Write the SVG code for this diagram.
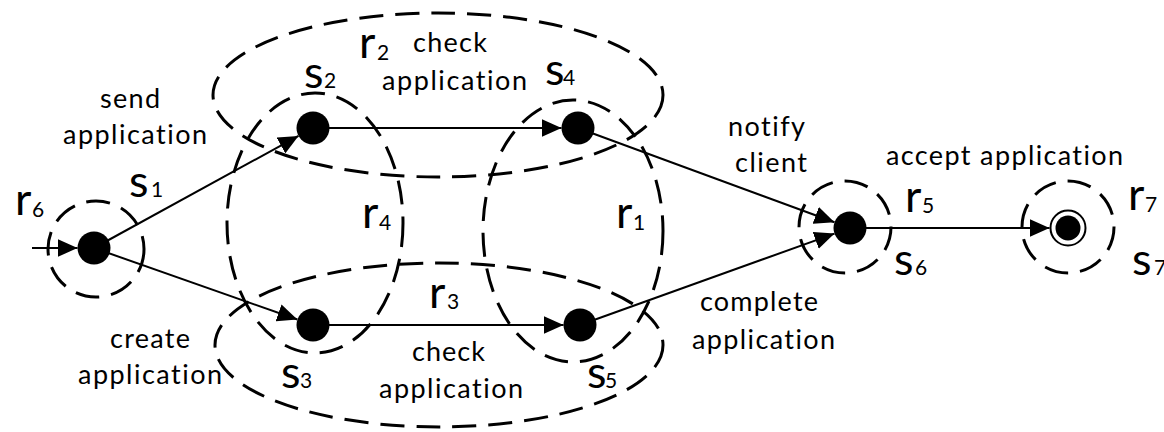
<svg xmlns="http://www.w3.org/2000/svg" width="1164" height="432" viewBox="0 0 1164 432">
<style>
.bg{fill:#fff}
.reg{fill:none;stroke:#000;stroke-width:3;stroke-dasharray:24 12}
.edge{fill:none;stroke:#000;stroke-width:2;marker-end:url(#arr)}
.node{fill:#000}
.ring{fill:none;stroke:#000;stroke-width:2}
text{font-family:Lato,"Liberation Sans",sans-serif;fill:#000;font-variant-ligatures:none}
.lbl{font-size:27px}
.big{font-size:45px}
.sub{font-size:21px}
</style>
<defs>
<marker id="arr" markerUnits="userSpaceOnUse" markerWidth="20" markerHeight="18" refX="20" refY="9" orient="auto">
<path d="M0,0 L20,9 L0,18 z" fill="#000"/>
</marker>
</defs>
<rect class="bg" x="0" y="0" width="1164" height="432"/>
<g id="regions">
<g id="r6"><circle class="reg" cx="96" cy="249" r="48"/><text class="big" x="15" y="215">r<tspan class="sub" x="32" y="217">6</tspan></text></g>
<g id="r2"><ellipse class="reg" cx="438" cy="95" rx="225" ry="82"/><text class="big" x="359" y="58">r<tspan class="sub" x="377" y="60">2</tspan></text></g>
<g id="r3"><ellipse class="reg" cx="439" cy="345" rx="224" ry="82"/><text class="big" x="429" y="308">r<tspan class="sub" x="447" y="309">3</tspan></text></g>
<g id="r4"><ellipse class="reg" cx="315" cy="223" rx="88" ry="130"/><text class="big" x="362" y="228">r<tspan class="sub" x="379" y="230">4</tspan></text></g>
<g id="r1"><ellipse class="reg" cx="573" cy="231" rx="90" ry="131"/><text class="big" x="616" y="228">r<tspan class="sub" x="633" y="230">1</tspan></text></g>
<g id="r5"><circle class="reg" cx="845" cy="227" r="46"/><text class="big" x="905" y="212">r<tspan class="sub" x="922" y="213">5</tspan></text></g>
<g id="r7"><circle class="reg" cx="1068" cy="227" r="46"/><text class="big" x="1128" y="210">r<tspan class="sub" x="1145" y="212">7</tspan></text></g>
</g>
<g id="connectors">
<line class="edge" x1="32" y1="248" x2="77.5" y2="248"/>
<line class="edge" x1="94" y1="248" x2="298.5" y2="135.9"/>
<line class="edge" x1="94" y1="248" x2="297.4" y2="319.5"/>
<line class="edge" x1="313" y1="128" x2="561.5" y2="128"/>
<line class="edge" x1="313" y1="325" x2="563.5" y2="325"/>
<line class="edge" x1="578" y1="128" x2="834.5" y2="222.3"/>
<line class="edge" x1="580" y1="325" x2="834.5" y2="233.6"/>
<line class="edge" x1="850" y1="228" x2="1049.5" y2="228"/>
<text class="lbl" x="100" y="108" textLength="60" lengthAdjust="spacing">send</text>
<text class="lbl" x="63" y="144" textLength="144" lengthAdjust="spacing">application</text>
<text class="lbl" x="413" y="52" textLength="74" lengthAdjust="spacing">check</text>
<text class="lbl" x="382" y="90" textLength="145" lengthAdjust="spacing">application</text>
<text class="lbl" x="728" y="136" textLength="77" lengthAdjust="spacing">notify</text>
<text class="lbl" x="735" y="172" textLength="72" lengthAdjust="spacing">client</text>
<text class="lbl" x="886" y="165" textLength="237" lengthAdjust="spacing">accept application</text>
<text class="lbl" x="110" y="348" textLength="80" lengthAdjust="spacing">create</text>
<text class="lbl" x="78" y="384" textLength="144" lengthAdjust="spacing">application</text>
<text class="lbl" x="412" y="361" textLength="73" lengthAdjust="spacing">check</text>
<text class="lbl" x="379" y="398" textLength="144" lengthAdjust="spacing">application</text>
<text class="lbl" x="700" y="311" textLength="118" lengthAdjust="spacing">complete</text>
<text class="lbl" x="692" y="349" textLength="143" lengthAdjust="spacing">application</text>
</g>
<g id="s1"><circle class="node" cx="94" cy="248" r="16.5"/><text class="big" x="129" y="197">s<tspan class="sub" x="151" y="197">1</tspan></text></g>
<g id="s2"><circle class="node" cx="313" cy="128" r="16.5"/><text class="big" x="304" y="88">s<tspan class="sub" x="324" y="88">2</tspan></text></g>
<g id="s4"><circle class="node" cx="578" cy="128" r="16.5"/><text class="big" x="545" y="85">s<tspan class="sub" x="563" y="85">4</tspan></text></g>
<g id="s3"><circle class="node" cx="313" cy="325" r="16.5"/><text class="big" x="281" y="388">s<tspan class="sub" x="300" y="388">3</tspan></text></g>
<g id="s5"><circle class="node" cx="580" cy="325" r="16.5"/><text class="big" x="587" y="388">s<tspan class="sub" x="605" y="388">5</tspan></text></g>
<g id="s6"><circle class="node" cx="850" cy="228" r="16.5"/><text class="big" x="894" y="275">s<tspan class="sub" x="915" y="275">6</tspan></text></g>
<g id="s7"><circle class="ring" cx="1068" cy="228" r="17.5"/><circle class="node" cx="1068" cy="228" r="12.5"/><text class="big" x="1132" y="275">s<tspan class="sub" x="1154" y="275">7</tspan></text></g>
</svg>
